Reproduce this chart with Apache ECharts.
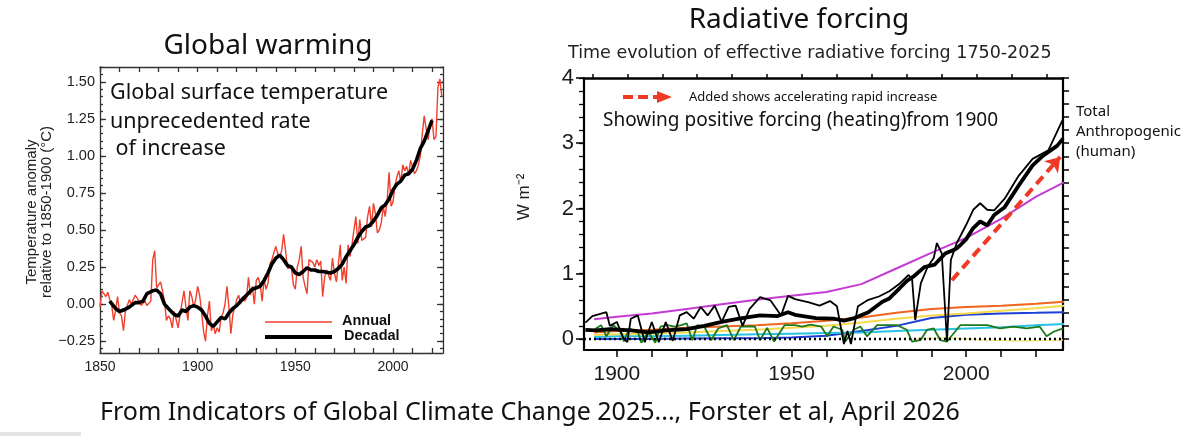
<!DOCTYPE html>
<html>
<head>
<meta charset="utf-8">
<script src="https://cdn.jsdelivr.net/npm/echarts@6.0.0/dist/echarts.min.js"></script>
<style>
  html, body { margin: 0; padding: 0; background: #fff; }
  #chart { width: 1190px; height: 436px; }
</style>
</head>
<body>
<div id="chart"></div>
<script>
// ---- Global warming panel (anomaly vs 1850-1900, degC) ----
var tempStartYear = 1850;
var annualTemp = [
  -0.02, 0.09, 0.07, 0.05, 0.08, 0.03, -0.01, -0.11, -0.04, 0.05,
  -0.06, -0.08, -0.18, -0.05, -0.01, 0.03, 0.00, 0.01, 0.06, 0.04,
  0.02, -0.01, 0.00, 0.02, -0.01, -0.02, 0.02, 0.30, 0.36, 0.11,
  0.13, 0.15, 0.09, 0.02, -0.11, -0.08, -0.10, -0.16, -0.05, -0.05,
  -0.16, -0.07, -0.06, 0.09, -0.02, -0.11, 0.09, 0.05, -0.02, 0.03,
  0.12, 0.06, -0.05, -0.18, -0.25, -0.08, 0.02, -0.18, -0.14, -0.20,
  -0.16, -0.19, -0.09, -0.06, 0.00, 0.12, -0.02, -0.20, -0.07, -0.02,
  0.03, 0.06, 0.00, 0.05, 0.02, 0.04, 0.18, 0.06, 0.12, 0.00,
  0.16, 0.18, 0.13, 0.02, 0.17, 0.10, 0.14, 0.27, 0.30, 0.30,
  0.39, 0.34, 0.32, 0.36, 0.47, 0.36, 0.24, 0.23, 0.25, 0.13,
  0.10, 0.25, 0.30, 0.39, 0.18, 0.12, 0.07, 0.30, 0.31, 0.28,
  0.25, 0.30, 0.26, 0.29, 0.05, 0.18, 0.23, 0.23, 0.16, 0.31,
  0.21, 0.15, 0.27, 0.40, 0.16, 0.25, 0.14, 0.40, 0.32, 0.40,
  0.50, 0.59, 0.41, 0.57, 0.43, 0.42, 0.45, 0.59, 0.66, 0.52,
  0.68, 0.61, 0.48, 0.50, 0.55, 0.66, 0.59, 0.70, 0.89, 0.66,
  0.69, 0.80, 0.86, 0.90, 0.82, 0.94, 0.90, 0.93, 0.87, 0.97,
  0.98, 0.88, 0.90, 0.94, 1.00, 1.15, 1.27, 1.18, 1.11, 1.22,
  1.25, 1.11, 1.13, 1.46, 1.52, 1.40
];
var decadalYears = [1855, 1858, 1860, 1862, 1865, 1868, 1870, 1872, 1874, 1877, 1879, 1881, 1883, 1885, 1888,
  1890, 1892, 1894, 1896, 1898, 1900, 1902, 1904, 1906, 1908, 1910, 1912, 1914, 1916, 1918,
  1920, 1922, 1925, 1928, 1930, 1932, 1934, 1936, 1938, 1940, 1942, 1944, 1946, 1948,
  1950, 1952, 1954, 1956, 1958, 1960, 1962, 1964, 1966, 1968, 1970, 1972, 1974, 1976, 1978,
  1980, 1982, 1984, 1986, 1988, 1990, 1992, 1994, 1996, 1998, 2000, 2002, 2004, 2006, 2008,
  2010, 2012, 2014, 2016, 2018, 2020];
var decadalTemp = [0.02, -0.03, -0.05, -0.04, -0.02, 0.01, 0.01, 0.02, 0.07, 0.09, 0.095, 0.07, 0.00, -0.03, -0.07,
  -0.08, -0.04, -0.05, -0.02, -0.01, -0.02, -0.04, -0.08, -0.13, -0.15, -0.12, -0.09, -0.10, -0.06, -0.03,
  -0.01, 0.02, 0.06, 0.10, 0.11, 0.12, 0.16, 0.21, 0.27, 0.31, 0.33, 0.30, 0.26, 0.25,
  0.21, 0.20, 0.22, 0.245, 0.23, 0.23, 0.22, 0.22, 0.215, 0.21, 0.22, 0.24, 0.27, 0.32, 0.36,
  0.40, 0.45, 0.49, 0.52, 0.53, 0.56, 0.60, 0.65, 0.67, 0.71, 0.77, 0.81, 0.83, 0.87, 0.88,
  0.91, 0.97, 1.05, 1.10, 1.17, 1.24];
var tempTicks = [-0.25, 0, 0.25, 0.5, 0.75, 1, 1.25, 1.5];
var yearTicksLeft = [1850, 1900, 1950, 2000];

// ---- Radiative forcing panel (W m-2) ----
var gasYears = [1893.5, 1900, 1910, 1920, 1930, 1940, 1950, 1960, 1970, 1980, 1990, 2000, 2010, 2020, 2028];
var co2Forcing    = [0.30, 0.34, 0.39, 0.46, 0.53, 0.60, 0.66, 0.72, 0.84, 1.08, 1.32, 1.55, 1.84, 2.18, 2.40];
var orangeForcing = [0.10, 0.12, 0.14, 0.17, 0.19, 0.21, 0.24, 0.28, 0.33, 0.40, 0.46, 0.49, 0.51, 0.54, 0.57];
var yellowForcing = [0.06, 0.07, 0.08, 0.10, 0.12, 0.14, 0.17, 0.20, 0.25, 0.31, 0.36, 0.39, 0.43, 0.47, 0.51];
var blueForcing   = [0.00, 0.00, 0.00, 0.005, 0.01, 0.01, 0.02, 0.05, 0.12, 0.20, 0.32, 0.37, 0.39, 0.40, 0.41];
var cyanForcing   = [0.03, 0.04, 0.04, 0.05, 0.06, 0.07, 0.08, 0.09, 0.10, 0.12, 0.14, 0.16, 0.18, 0.21, 0.23];

var faintYears = [1985, 1995, 2005, 2015, 2027.7];
var faintForcing = [0.00, 0.02, -0.02, -0.03, -0.02];

var greenYears = [1893.5, 1894, 1895.5, 1897, 1899, 1901, 1902, 1903.5, 1906, 1907, 1909, 1911, 1912.5, 1914.5, 1916.5,
  1918.5, 1920, 1921.6, 1923, 1925, 1927, 1929, 1931.5, 1933.5, 1935.5, 1937.5, 1939.5, 1941, 1943, 1945,
  1948, 1951, 1953, 1955.5, 1958.5, 1960.2, 1962, 1964.5, 1965.4, 1967.8, 1969.7, 1971.6, 1974.5, 1977.3, 1980.2,
  1983, 1984.5, 1986.9, 1988.8, 1990.7, 1992.6, 1994.5, 1998.3, 2002, 2006, 2009.7, 2013.5, 2017.3, 2021, 2023,
  2025, 2027.7];
var greenForcing = [0.12, 0.16, 0.21, 0.04, 0.21, 0.11, -0.04, 0.16, 0.11, -0.06, 0.11, -0.06, 0.19, 0.21, 0.19,
  0.21, 0.24, -0.02, 0.21, 0.19, -0.02, 0.16, 0.21, -0.02, 0.19, 0.19, 0.19, -0.02, 0.17, -0.04,
  0.21, 0.21, 0.19, 0.22, 0.19, 0.04, 0.19, 0.14, -0.04, 0.14, 0.19, 0.04, 0.21, 0.21, 0.21,
  0.14, -0.04, -0.02, 0.14, 0.16, -0.02, -0.04, 0.21, 0.21, 0.21, 0.16, 0.19, 0.16, 0.19, 0.04,
  0.11, 0.16];

var totalYears = [1891, 1893, 1895, 1897, 1898, 1900, 1902, 1903, 1904, 1906, 1908, 1910, 1912, 1914, 1916,
  1918, 1920, 1922, 1924, 1926, 1928, 1930, 1932, 1934, 1936, 1938, 1941, 1944, 1947, 1949,
  1951, 1955, 1958, 1961, 1963, 1965, 1966, 1967, 1969, 1972, 1975, 1978, 1981, 1983.5, 1984.5,
  1985.4, 1987, 1989, 1990.7, 1991.6, 1993, 1994.5, 1995.6, 1997.3, 2000, 2002, 2004, 2006, 2008, 2011,
  2015, 2019, 2023.5, 2027.7];
var totalForcing = [0.25, 0.35, 0.38, 0.41, 0.20, 0.26, 0.00, -0.05, 0.31, 0.36, -0.05, 0.26, -0.05, 0.26, -0.03,
  0.36, 0.41, 0.31, 0.49, 0.36, 0.51, 0.26, 0.49, 0.51, 0.20, 0.46, 0.64, 0.59, 0.36, 0.66,
  0.61, 0.56, 0.51, 0.58, 0.50, -0.08, 0.12, -0.08, 0.50, 0.60, 0.65, 0.73, 0.85, 0.98, 0.92,
  0.29, 0.85, 1.11, 1.24, 1.47, 1.31, -0.04, 1.21, 1.47, 1.75, 1.98, 2.08, 1.98, 1.97, 2.15,
  2.50, 2.76, 2.89, 3.37];

var anthroYears = [1891, 1894, 1898, 1904, 1909, 1914, 1920, 1925, 1930, 1935, 1941, 1946, 1949, 1951, 1957,
  1962, 1965, 1968, 1972, 1976, 1978, 1981, 1983, 1985, 1988, 1991, 1994, 1997, 1998, 2000,
  2002, 2004, 2006, 2008, 2011, 2015, 2019, 2022, 2026, 2027.7];
var anthroForcing = [0.14, 0.13, 0.15, 0.13, 0.10, 0.13, 0.15, 0.20, 0.26, 0.31, 0.36, 0.35, 0.41, 0.37, 0.32,
  0.31, 0.28, 0.32, 0.41, 0.57, 0.62, 0.78, 0.89, 0.96, 1.10, 1.14, 1.31, 1.38, 1.42, 1.53,
  1.70, 1.80, 1.74, 1.90, 2.02, 2.35, 2.66, 2.81, 2.96, 3.07];

var addedArrow = [[1995.9, 0.90], [2026.9, 2.79]];
var forcingTicks = [0, 1, 2, 3, 4];
var yearTicksRight = [1900, 1950, 2000];
var decadeTicksRight = [1900, 1910, 1920, 1930, 1940, 1950, 1960, 1970, 1980, 1990, 2000, 2010, 2020];
var decadeTicksTop = [1890, 1900, 1910, 1920, 1930, 1940, 1950, 1960, 1970, 1980, 1990, 2000, 2010, 2020];

function pairs(xs, ys) {
  return xs.map(function (x, i) { return [x, ys[i]]; });
}
function steps(from, to, step) {
  var out = [];
  for (var v = from; v <= to + 1e-9; v += step) out.push(Math.round(v * 100) / 100);
  return out;
}
function plain(v) { return String(v); }

var annualData = annualTemp.map(function (v, i) { return [tempStartYear + i, v]; });
var tempMinor = steps(-0.30, 1.60, 0.05);
var decadesLeft = steps(1850, 2020, 10);
var forcingMinor = steps(0, 4, 0.2);

var sans = "'Noto Sans', 'Open Sans', sans-serif";
var arial = "'Liberation Sans', Arial, sans-serif";
var dejavu = "'DejaVu Sans', sans-serif";

function txt(x, y, text, font, extra) {
  var el = {
    type: 'text', x: x, y: y, silent: true,
    style: { text: text, font: font, fill: '#111', align: 'left', verticalAlign: 'middle',
             textAlign: 'left', textVerticalAlign: 'middle' }
  };
  if (extra) {
    for (var k in extra) {
      if (k === 'style') { for (var s in extra.style) el.style[s] = extra.style[s]; }
      else el[k] = extra[k];
    }
  }
  return el;
}

var frameLeft = { color: '#333', width: 1.3 };
var frameRight = { color: '#000', width: 2.2 };

var chart = echarts.init(document.getElementById('chart'));
chart.setOption({
  animation: false,
  backgroundColor: '#fff',
  grid: [
    { left: 100, top: 67, width: 343, height: 286 },
    { left: 584, top: 78, width: 479, height: 272 }
  ],
  xAxis: [
    { gridIndex: 0, type: 'value', min: 1850, max: 2025.6, position: 'bottom',
      axisLine: { onZero: false, lineStyle: frameLeft },
      axisTick: { inside: true, length: 5, customValues: decadesLeft, lineStyle: frameLeft },
      axisLabel: { customValues: yearTicksLeft, color: '#222', fontSize: 14, fontFamily: arial, margin: 7, formatter: plain },
      splitLine: { show: false } },
    { gridIndex: 0, type: 'value', min: 1850, max: 2025.6, position: 'top',
      axisLine: { onZero: false, lineStyle: frameLeft },
      axisTick: { inside: true, length: 5, customValues: decadesLeft, lineStyle: frameLeft },
      axisLabel: { show: false }, splitLine: { show: false } },
    { gridIndex: 1, type: 'value', min: 1890.6, max: 2027.7, position: 'bottom',
      axisLine: { onZero: false, lineStyle: frameRight },
      axisTick: { length: 7, customValues: decadeTicksRight, lineStyle: { color: '#000', width: 1.5 } },
      axisLabel: { customValues: yearTicksRight, color: '#1a1a1a', fontSize: 21, fontFamily: arial, margin: 14, formatter: plain },
      splitLine: { show: false } },
    { gridIndex: 1, type: 'value', min: 1887.6, max: 2024.7, position: 'top',
      axisLine: { onZero: false, lineStyle: { color: '#000', width: 2.5 } },
      axisTick: { length: 4, customValues: decadeTicksTop, lineStyle: { color: '#000', width: 1.5 } },
      axisLabel: { show: false }, splitLine: { show: false } }
  ],
  yAxis: [
    { gridIndex: 0, type: 'value', min: -0.33, max: 1.6, position: 'left',
      axisLine: { show: true, onZero: false, lineStyle: frameLeft },
      axisTick: { inside: true, length: 6, customValues: tempTicks, lineStyle: frameLeft },
      axisLabel: { customValues: tempTicks, color: '#222', fontSize: 14.5, fontFamily: arial, margin: 5,
        formatter: function (v) { return (v < 0 ? '\u2212' : '') + Math.abs(v).toFixed(2); } },
      splitLine: { show: false } },
    { gridIndex: 0, type: 'value', min: -0.33, max: 1.6, position: 'right',
      axisLine: { show: true, onZero: false, lineStyle: frameLeft },
      axisTick: { inside: true, length: 6, customValues: tempTicks, lineStyle: frameLeft },
      axisLabel: { show: false }, splitLine: { show: false } },
    { gridIndex: 0, type: 'value', min: -0.33, max: 1.6, position: 'left',
      axisLine: { show: false },
      axisTick: { inside: true, length: 3, customValues: tempMinor, lineStyle: frameLeft },
      axisLabel: { show: false }, splitLine: { show: false } },
    { gridIndex: 0, type: 'value', min: -0.33, max: 1.6, position: 'right',
      axisLine: { show: false },
      axisTick: { inside: true, length: 3, customValues: tempMinor, lineStyle: frameLeft },
      axisLabel: { show: false }, splitLine: { show: false } },
    { gridIndex: 1, type: 'value', min: -0.17, max: 4, position: 'left',
      axisLine: { show: true, onZero: false, lineStyle: frameRight },
      axisTick: { length: 8, customValues: forcingTicks, lineStyle: { color: '#000', width: 1.5 } },
      axisLabel: { customValues: forcingTicks, color: '#1a1a1a', fontSize: 22, fontFamily: arial, margin: 10 },
      splitLine: { show: false } },
    { gridIndex: 1, type: 'value', min: -0.17, max: 4, position: 'left',
      axisLine: { show: false },
      axisTick: { length: 5, customValues: forcingMinor, lineStyle: { color: '#000', width: 1.3 } },
      axisLabel: { show: false }, splitLine: { show: false } },
    { gridIndex: 1, type: 'value', min: -0.17, max: 4, position: 'right',
      axisLine: { show: true, onZero: false, lineStyle: frameRight },
      axisTick: { length: 6, customValues: forcingMinor, lineStyle: { color: '#000', width: 1.5 } },
      axisLabel: { show: false }, splitLine: { show: false } }
  ],
  series: [
    { type: 'line', xAxisIndex: 0, yAxisIndex: 0, data: annualData, symbol: 'none', silent: true,
      lineStyle: { color: '#f0402c', width: 1.4 }, z: 3 },
    { type: 'line', xAxisIndex: 0, yAxisIndex: 0, data: pairs(decadalYears, decadalTemp), symbol: 'none',
      silent: true, lineStyle: { color: '#000', width: 3.6 }, z: 4 },

    { type: 'line', xAxisIndex: 2, yAxisIndex: 4, data: pairs(faintYears, faintForcing), symbol: 'none',
      silent: true, lineStyle: { color: '#f3e37a', width: 1.3 }, z: 2 },
    { type: 'line', xAxisIndex: 2, yAxisIndex: 4, data: pairs(gasYears, blueForcing), symbol: 'none',
      silent: true, lineStyle: { color: '#1d3fd6', width: 2 }, z: 2 },
    { type: 'line', xAxisIndex: 2, yAxisIndex: 4, data: pairs(gasYears, cyanForcing), symbol: 'none',
      silent: true, lineStyle: { color: '#27c3e4', width: 2 }, z: 2,
      markLine: { silent: true, symbol: 'none', label: { show: false },
        lineStyle: { color: '#000', width: 2.4, type: [2, 3] }, data: [{ yAxis: 0 }] } },
    { type: 'line', xAxisIndex: 2, yAxisIndex: 4, data: pairs(gasYears, yellowForcing), symbol: 'none',
      silent: true, lineStyle: { color: '#f7d94c', width: 2 }, z: 2 },
    { type: 'line', xAxisIndex: 2, yAxisIndex: 4, data: pairs(gasYears, orangeForcing), symbol: 'none',
      silent: true, lineStyle: { color: '#f0641e', width: 2 }, z: 2 },
    { type: 'line', xAxisIndex: 2, yAxisIndex: 4, data: pairs(gasYears, co2Forcing), symbol: 'none',
      silent: true, lineStyle: { color: '#c53ad2', width: 2 }, z: 2 },
    { type: 'line', xAxisIndex: 2, yAxisIndex: 4, data: pairs(greenYears, greenForcing), symbol: 'none',
      silent: true, lineStyle: { color: '#1c7a1c', width: 1.8 }, z: 3 },
    { type: 'line', xAxisIndex: 2, yAxisIndex: 4, data: pairs(totalYears, totalForcing), symbol: 'none',
      silent: true, lineStyle: { color: '#000', width: 1.8 }, z: 4 },
    { type: 'line', xAxisIndex: 2, yAxisIndex: 4, data: pairs(anthroYears, anthroForcing), symbol: 'none',
      silent: true, lineStyle: { color: '#000', width: 3.8 }, z: 5,
      markLine: { silent: true, symbol: ['none', 'arrow'], symbolSize: 14, label: { show: false },
        lineStyle: { color: '#f03a26', width: 4, type: [10, 6] },
        data: [[{ coord: addedArrow[0] }, { coord: addedArrow[1] }]] } }
  ],
  graphic: [
    txt(268, 46, 'Global warming', '28px ' + sans, { style: { align: 'center', textAlign: 'center' } }),
    txt(799, 20, 'Radiative forcing', '28px ' + sans, { style: { align: 'center', textAlign: 'center' } }),
    txt(568, 53, 'Time evolution of effective radiative forcing 1750-2025', '17.5px ' + dejavu, { style: { fill: '#222' } }),

    txt(110, 93, 'Global surface temperature', '21.5px ' + sans),
    txt(110, 122, 'unprecedented rate', '21.5px ' + sans),
    txt(110, 149, ' of increase', '21.5px ' + sans),

    txt(32, 212, 'Temperature anomaly', '15px ' + arial, { rotation: Math.PI / 2, style: { align: 'center', textAlign: 'center', fill: '#222' } }),
    txt(47, 212, 'relative to 1850-1900 (\u00b0C)', '15px ' + arial, { rotation: Math.PI / 2, style: { align: 'center', textAlign: 'center', fill: '#222' } }),

    { type: 'line', silent: true, shape: { x1: 265, y1: 322, x2: 332, y2: 322 }, style: { stroke: '#f0402c', lineWidth: 1.5 } },
    { type: 'line', silent: true, shape: { x1: 265, y1: 337, x2: 332, y2: 337 }, style: { stroke: '#000', lineWidth: 4 } },
    txt(342, 321, 'Annual', 'bold 14.5px ' + arial),
    txt(344, 336, 'Decadal', 'bold 14.5px ' + arial),

    txt(524, 197, 'W m\u207b\u00b2', '17px ' + arial, { rotation: Math.PI / 2, style: { align: 'center', textAlign: 'center', fill: '#222' } }),

    { type: 'line', silent: true, shape: { x1: 623, y1: 97, x2: 660, y2: 97 },
      style: { stroke: '#f03a26', lineWidth: 4, lineDash: [10, 5] } },
    { type: 'polygon', silent: true, shape: { points: [[657, 91], [672, 97], [657, 103]] }, style: { fill: '#f03a26' } },
    txt(689, 97, 'Added shows accelerating rapid increase', '13px ' + sans),
    txt(603, 121, 'Showing positive forcing (heating)from 1900', '19px ' + sans),

    txt(1076, 112, 'Total', '15px ' + sans),
    txt(1076, 132, 'Anthropogenic', '15px ' + sans),
    txt(1076, 152, '(human)', '15px ' + sans),

    txt(100, 413, 'From Indicators of Global Climate Change 2025..., Forster et al, April 2026', '25px ' + sans),
    { type: 'rect', silent: true, shape: { x: 0, y: 432, width: 81, height: 4 }, style: { fill: '#e4e4e4' } }
  ]
});
</script>
</body>
</html>
